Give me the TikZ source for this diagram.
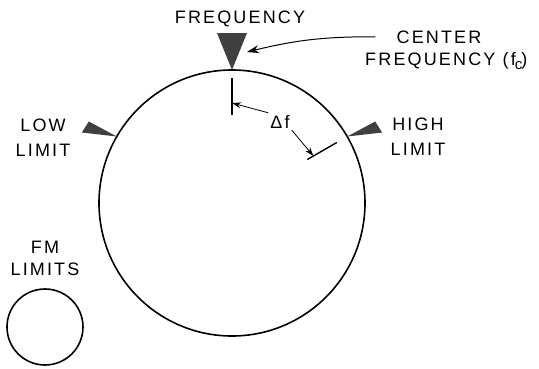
\documentclass[tikz,border=0pt]{standalone}
\usepackage{fontspec}
\newfontfamily\lblfont[LetterSpace=12]{Liberation Sans}
\usetikzlibrary{arrows.meta}

\begin{document}
\begin{tikzpicture}[x=1pt, y=1pt, >={Stealth[length=9pt,width=6pt]},
    lbl/.style={font=\lblfont\fontsize{18}{25}\selectfont, inner sep=0pt, align=center},
    marker/.style={fill=black!75},
    ring/.style={line width=1.6pt}]
    \useasboundingbox (-232,-165) rectangle (307,203);

    \draw[ring] (0,0) circle (133);
    \draw[ring] (-187,-124) circle (38);

    % centre marker
    \coordinate (tip) at (90:133);
    \fill[marker] (tip) -- ++(-15,37) -- ++(30,0) -- cycle;
    \coordinate (tipref) at (15,151);

    % limit markers
    \foreach \a/\s in {30/1,150/-1} {
        \fill[marker] (\a:133) -- ++(28*\s,15) -- ++(7*\s,-11) -- cycle;
    }

    % deviation ticks
    \draw[line width=1.4pt] (90:88) -- (90:125);
    \draw[line width=1.4pt] (30:87) -- (30:121);
    \coordinate (devc) at (90:100);
    \coordinate (devh) at (30:94);

    \node[lbl, anchor=base] (freq) at (8,180) {FREQUENCY};
    \node[lbl, anchor=base] (cen) at (207,160) {CENTER};
    \node[lbl, anchor=base west] (cenf) at (133,138)
        {FREQUENCY (f\kern-1pt\raisebox{-4pt}{\fontsize{15}{15}\selectfont c}\kern-1pt)};
    \node[lbl] (low) at (-189,65) {LOW\\LIMIT};
    \node[lbl] (high) at (186,66) {HIGH\\LIMIT};
    \node[lbl] (fm) at (-187,-55) {FM\\[-3pt]LIMITS};
    \node[lbl, anchor=base, inner sep=2pt] (df) at (48,75) {Δf};

    \draw[->, line width=1pt, >={Stealth[length=12pt,width=8pt]}]
        ([xshift=-21pt]cen.west) to[bend right=7] (tipref);
    \draw[->, thick] (df.north west) -- (devc);
    \draw[->, thick] (df.south east) -- (devh);
\end{tikzpicture}
\end{document}
